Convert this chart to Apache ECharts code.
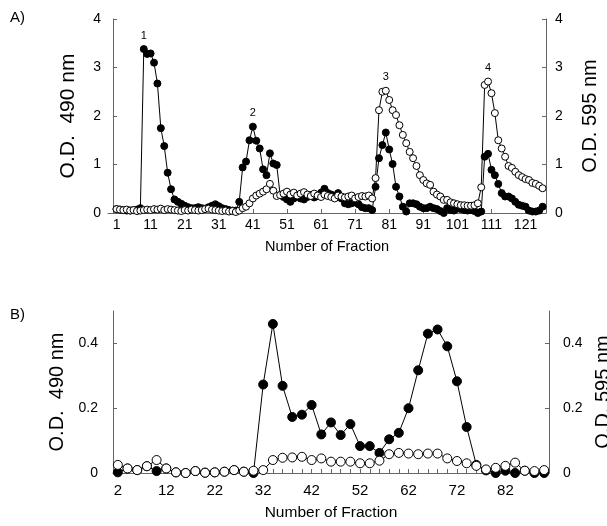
<!DOCTYPE html>
<html>
<head>
<meta charset="utf-8">
<script src="https://cdn.jsdelivr.net/npm/echarts@6/dist/echarts.min.js"></script>
<style>
html,body{margin:0;padding:0;background:#fff;}
#chart{width:607px;height:526px;}
</style>
</head>
<body>
<div id="chart"></div>
<script>
// ---------- Panel A data (one point per fraction, 1..126) ----------
const fractionsA = Array.from({length: 126}, (_, i) => i + 1);
const od490A = [
  0.08, 0.07, 0.06, 0.05, 0.05, 0.06, 0.07, 0.10, 3.38, 3.28,
  3.29, 3.10, 2.67, 1.75, 1.38, 0.83, 0.49, 0.28, 0.23, 0.19,
  0.15, 0.12, 0.10, 0.10, 0.12, 0.10, 0.09, 0.12, 0.15, 0.18,
  0.14, 0.10, 0.08, 0.06, 0.05, 0.05, 0.23, 0.94, 1.06, 1.50,
  1.78, 1.49, 1.33, 0.90, 0.78, 1.23, 1.02, 0.99, 0.37, 0.33,
  0.28, 0.23, 0.30, 0.35, 0.30, 0.28, 0.33, 0.37, 0.32, 0.35,
  0.42, 0.50, 0.41, 0.38, 0.35, 0.41, 0.30, 0.20, 0.18, 0.20,
  0.22, 0.18, 0.12, 0.10, 0.10, 0.06, 0.54, 1.13, 1.40, 1.66,
  1.31, 1.01, 0.54, 0.34, 0.13, 0.03, 0.20, 0.20, 0.18, 0.13,
  0.10, 0.10, 0.13, 0.10, 0.08, 0.04, 0.00, 0.10, 0.06, 0.05,
  0.10, 0.08, 0.06, 0.05, 0.06, 0.04, 0.00, 0.03, 1.16, 1.22,
  0.89, 0.78, 0.60, 0.41, 0.34, 0.34, 0.30, 0.23, 0.17, 0.15,
  0.13, 0.05, 0.03, 0.03, 0.05, 0.13
];
const od595A = [
  0.08, 0.07, 0.06, 0.07, 0.05, 0.06, 0.04, 0.05, 0.06, 0.07,
  0.06, 0.08, 0.07, 0.09, 0.06, 0.08, 0.07, 0.06, 0.05, 0.04,
  0.06, 0.05, 0.07, 0.06, 0.05, 0.06, 0.08, 0.09, 0.07, 0.06,
  0.05, 0.04, 0.05, 0.03, 0.04, 0.02, 0.05, 0.10, 0.13, 0.20,
  0.30, 0.36, 0.40, 0.44, 0.49, 0.60, 0.46, 0.35, 0.37, 0.40,
  0.44, 0.38, 0.42, 0.36, 0.40, 0.43, 0.38, 0.35, 0.40, 0.36,
  0.33, 0.38, 0.35, 0.33, 0.30, 0.36, 0.34, 0.32, 0.34, 0.36,
  0.30, 0.33, 0.35, 0.34, 0.36, 0.30, 0.72, 2.12, 2.50, 2.52,
  2.33, 2.12, 2.02, 1.81, 1.61, 1.44, 1.26, 1.13, 0.97, 0.78,
  0.68, 0.61, 0.58, 0.44, 0.38, 0.34, 0.27, 0.27, 0.22, 0.20,
  0.18, 0.16, 0.16, 0.15, 0.15, 0.16, 0.20, 0.53, 2.64, 2.71,
  2.47, 2.06, 1.50, 1.33, 1.16, 0.97, 0.93, 0.85, 0.78, 0.74,
  0.70, 0.68, 0.62, 0.60, 0.56, 0.51
];
const xTickLabelsA = [1, 11, 21, 31, 41, 51, 61, 71, 81, 91, 101, 111, 121];
const yTicksA = [0, 1, 2, 3, 4];
// peak annotations: label, fraction, which series
const peakNamesA = ['1', '2', '3', '4'];
const peakFractionsA = [9, 41, 80, 110];
const peakSeriesA = ['od490', 'od490', 'od595', 'od595'];

// ---------- Panel B data (every second fraction, 2..90) ----------
const fractionsB = Array.from({length: 45}, (_, i) => 2 + 2 * i);
const od490B = [
  0.002, 0.014, 0.009, 0.021, 0.006, 0.014, 0.002, 0.000, 0.006, 0.001,
  0.002, 0.004, 0.009, 0.004, 0.000, 0.273, 0.460, 0.269, 0.173, 0.180,
  0.210, 0.119, 0.156, 0.117, 0.151, 0.083, 0.083, 0.062, 0.104, 0.124,
  0.200, 0.317, 0.430, 0.443, 0.391, 0.283, 0.142, 0.025, 0.008, 0.000,
  0.007, 0.000, 0.007, 0.000, 0.000
];
const od595B = [
  0.025, 0.014, 0.009, 0.021, 0.040, 0.014, 0.002, 0.000, 0.006, 0.001,
  0.002, 0.004, 0.009, 0.004, 0.007, 0.009, 0.040, 0.047, 0.048, 0.050,
  0.040, 0.045, 0.035, 0.035, 0.035, 0.030, 0.030, 0.038, 0.058, 0.062,
  0.060, 0.058, 0.060, 0.060, 0.045, 0.037, 0.030, 0.022, 0.011, 0.016,
  0.022, 0.032, 0.007, 0.006, 0.009
];
const xTickLabelsB = [2, 12, 22, 32, 42, 52, 62, 72, 82];
const xMinorTicksB = [34, 36, 38, 40, 44, 46, 48, 50, 54, 56, 58, 60, 64, 66, 68, 70, 74, 76];
const yTicksB = [0, 0.2, 0.4];

// ---------- build ----------
const FONT = "'Liberation Sans', Arial, sans-serif";

function pairs(xs, ys) { return xs.map((x, i) => [x, ys[i]]); }
function withPeaks(xs, ys, key) {
  return xs.map((x, i) => {
    const k = peakFractionsA.indexOf(x);
    if (k >= 0 && peakSeriesA[k] === key) {
      return {value: [x, ys[i]], label: {show: true, formatter: peakNamesA[k], position: 'top', distance: 4,
        fontSize: 11, color: '#000', fontFamily: FONT}};
    }
    return [x, ys[i]];
  });
}

const axisLineStyle = {show: true, lineStyle: {color: '#666', width: 1}};
const tickStyle = {lineStyle: {color: '#666', width: 1}};

function yAxisDef(gridIndex, pos, max, ticks, name, nameGap, labelMargin, nameSize, interval) {
  return {
    type: 'value', gridIndex: gridIndex, position: pos, min: 0, max: max,
    interval: interval,
    name: name, nameLocation: 'middle', nameGap: nameGap, nameRotate: 90,
    nameTextStyle: {fontSize: nameSize, color: '#000', fontFamily: FONT},
    axisLine: axisLineStyle,
    axisTick: {show: true, inside: true, length: 4, customValues: ticks.filter(v => v > 0), ...tickStyle},
    axisLabel: {customValues: ticks, fontSize: 14, color: '#000', fontFamily: FONT, margin: labelMargin,
      formatter: v => (v === 0 ? '0' : String(v))},
    splitLine: {show: false}
  };
}

const option = {
  animation: false,
  backgroundColor: '#fff',
  title: [
    {text: 'A)', left: 5, top: 5, textStyle: {fontSize: 15, fontWeight: 'normal', color: '#000', fontFamily: FONT}},
    {text: 'B)', left: 5, top: 302, textStyle: {fontSize: 15, fontWeight: 'normal', color: '#000', fontFamily: FONT}}
  ],
  grid: [
    {left: 108, top: 19, width: 438, height: 194, outerBoundsMode: 'none', containLabel: false},
    {left: 113, top: 311, width: 436, height: 162, outerBoundsMode: 'none', containLabel: false}
  ],
  xAxis: [
    {
      type: 'value', gridIndex: 0, min: -1.5, max: 127,
      name: 'Number of Fraction', nameLocation: 'middle', nameGap: 26,
      nameTextStyle: {fontSize: 14.5, color: '#000', fontFamily: FONT},
      axisLine: axisLineStyle,
      axisTick: {show: true, inside: true, length: 4, customValues: xTickLabelsA, ...tickStyle},
      axisLabel: {customValues: xTickLabelsA, fontSize: 14, color: '#000', fontFamily: FONT, margin: 5},
      splitLine: {show: false}
    },
    {
      type: 'value', gridIndex: 1, min: 1, max: 91,
      name: 'Number of Fraction', nameLocation: 'middle', nameGap: 32,
      nameTextStyle: {fontSize: 15.5, color: '#000', fontFamily: FONT},
      axisLine: axisLineStyle,
      axisTick: {show: true, inside: true, length: 4, customValues: xMinorTicksB.concat(xTickLabelsB), ...tickStyle},
      axisLabel: {customValues: xTickLabelsB, fontSize: 15, color: '#000', fontFamily: FONT, margin: 10},
      splitLine: {show: false}
    }
  ],
  yAxis: [
    yAxisDef(0, 'left', 4, yTicksA, 'O.D.  490 nm', 29, 7, 21, 1),
    yAxisDef(0, 'right', 4, yTicksA, 'O.D. 595 nm', 34, 9, 20, 1),
    yAxisDef(1, 'left', 0.5, yTicksB, 'O.D.  490 nm', 31, 15, 20, 0.1),
    yAxisDef(1, 'right', 0.5, yTicksB, 'O.D. 595 nm', 43, 14, 20, 0.1)
  ],
  series: [
    {
      name: 'A 490', type: 'line', xAxisIndex: 0, yAxisIndex: 0,
      data: withPeaks(fractionsA, od490A, 'od490'),
      symbol: 'circle', symbolSize: 7, showAllSymbol: true,
      lineStyle: {color: '#000', width: 1},
      itemStyle: {color: '#000', borderColor: '#000', borderWidth: 1},
      z: 2
    },
    {
      name: 'A 595', type: 'line', xAxisIndex: 0, yAxisIndex: 1,
      data: withPeaks(fractionsA, od595A, 'od595'),
      symbol: 'circle', symbolSize: 7, showAllSymbol: true,
      lineStyle: {color: '#000', width: 1},
      itemStyle: {color: '#fff', borderColor: '#000', borderWidth: 1},
      z: 3
    },
    {
      name: 'B 490', type: 'line', xAxisIndex: 1, yAxisIndex: 2,
      data: pairs(fractionsB, od490B),
      symbol: 'circle', symbolSize: 9, showAllSymbol: true,
      lineStyle: {color: '#000', width: 1},
      itemStyle: {color: '#000', borderColor: '#000', borderWidth: 1},
      z: 2
    },
    {
      name: 'B 595', type: 'line', xAxisIndex: 1, yAxisIndex: 3,
      data: pairs(fractionsB, od595B),
      symbol: 'circle', symbolSize: 9, showAllSymbol: true,
      lineStyle: {color: '#000', width: 1},
      itemStyle: {color: '#fff', borderColor: '#000', borderWidth: 1},
      z: 3
    }
  ]
};

const chart = echarts.init(document.getElementById('chart'), null, {renderer: 'canvas'});
chart.setOption(option);
</script>
</body>
</html>
